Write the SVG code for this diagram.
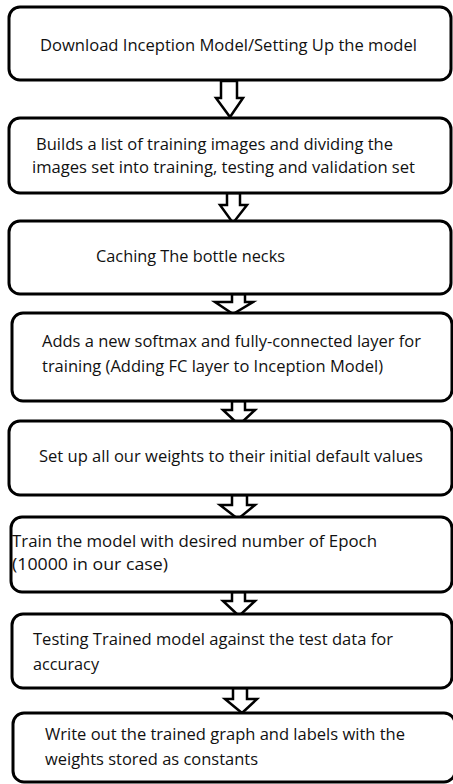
<svg xmlns="http://www.w3.org/2000/svg" width="453" height="784" viewBox="0 0 453 784">
<style>
.box{fill:#fff;stroke:#000;stroke-width:3}
.arr{fill:#fff;stroke:#000;stroke-width:2.5;stroke-linejoin:miter}
text{font-family:"Open Sans","Liberation Sans",sans-serif;font-size:16px;fill:#111}
</style>
<rect width="453" height="784" fill="#fff"/>
<g id="connectors">
<polygon class="arr" points="221,81 237,81 237,98 243,98 230,117 216,98 221,98"/>
<polygon class="arr" points="227,193 240,193 240,205 247,205 233,223 220,205 227,205"/>
<polygon class="arr" points="232,294 245,294 245,302 253,302 233,314 215,302 232,302"/>
<polygon class="arr" points="232,401 245,401 245,410 255,410 239,425 223,410 232,410"/>
<polygon class="arr" points="232,495 247,495 247,505 255,505 238,519 220,505 232,505"/>
<polygon class="arr" points="232,592 245,592 245,601 255,601 239,616 223,601 232,601"/>
<polygon class="arr" points="233,688 247,688 247,699 257,699 242,713 225,699 233,699"/>
</g>
<g id="n1"><rect class="box" x="9" y="7" width="442" height="73" rx="11"/>
<text x="40" y="51" textLength="377" lengthAdjust="spacingAndGlyphs">Download Inception Model/Setting Up the model</text></g>
<g id="n2"><rect class="box" x="9" y="118" width="442" height="75" rx="11"/>
<text x="36" y="150" textLength="357" lengthAdjust="spacingAndGlyphs">Builds a list of training images and dividing the</text>
<text x="32" y="173" textLength="383" lengthAdjust="spacingAndGlyphs">images set into training, testing and validation set</text></g>
<g id="n3"><rect class="box" x="9" y="221" width="442" height="73" rx="11"/>
<text x="96" y="262" textLength="189" lengthAdjust="spacingAndGlyphs">Caching The bottle necks</text></g>
<g id="n4"><rect class="box" x="12" y="313" width="440" height="88" rx="11"/>
<text x="42" y="347" textLength="379" lengthAdjust="spacingAndGlyphs">Adds a new softmax and fully-connected layer for</text>
<text x="42" y="372" textLength="341" lengthAdjust="spacingAndGlyphs">training (Adding FC layer to Inception Model)</text></g>
<g id="n5"><rect class="box" x="9" y="421" width="443" height="74" rx="11"/>
<text x="39" y="462" textLength="384" lengthAdjust="spacingAndGlyphs">Set up all our weights to their initial default values</text></g>
<g id="n6"><rect class="box" x="11" y="517" width="441" height="75" rx="11"/>
<text x="12" y="547" textLength="365" lengthAdjust="spacingAndGlyphs">Train the model with desired number of Epoch</text>
<text x="12" y="570" textLength="156" lengthAdjust="spacingAndGlyphs">(10000 in our case)</text></g>
<g id="n7"><rect class="box" x="12" y="614" width="440" height="74" rx="11"/>
<text x="33" y="645" textLength="360" lengthAdjust="spacingAndGlyphs">Testing Trained model against the test data for</text>
<text x="33" y="670" textLength="66" lengthAdjust="spacingAndGlyphs">accuracy</text></g>
<g id="n8"><rect class="box" x="13" y="713" width="442" height="69" rx="11"/>
<text x="45" y="740" textLength="360" lengthAdjust="spacingAndGlyphs">Write out the trained graph and labels with the</text>
<text x="45" y="765" textLength="213" lengthAdjust="spacingAndGlyphs">weights stored as constants</text></g>
</svg>
